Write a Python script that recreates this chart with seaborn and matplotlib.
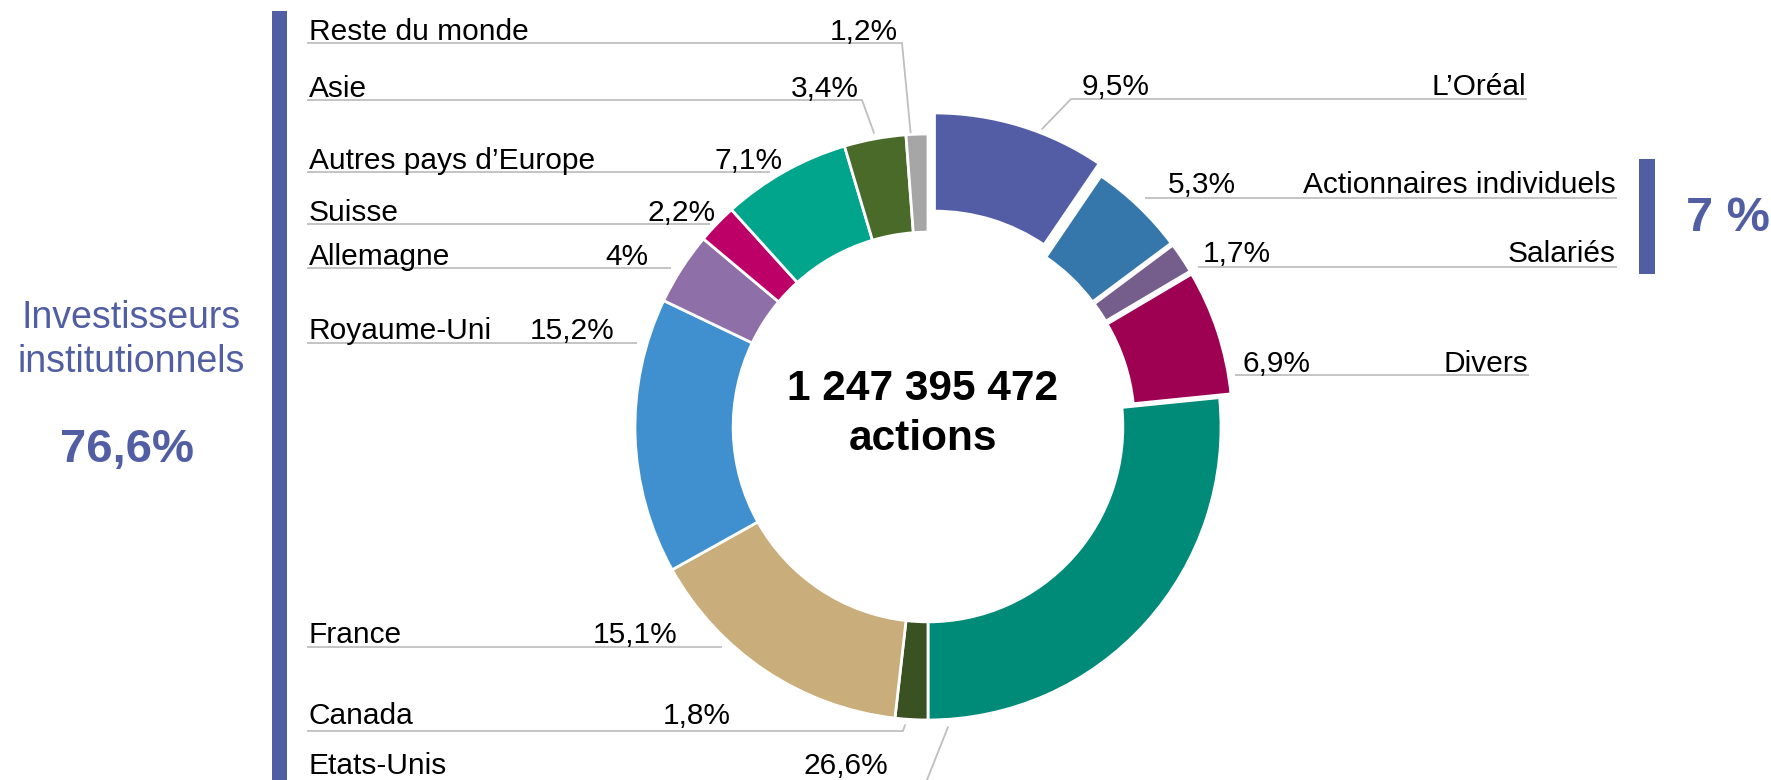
"""L'Oréal shareholding structure donut chart."""

import matplotlib.pyplot as plt
import seaborn as sns

# --- data --------------------------------------------------------------
segments = [
    "L\u2019Oréal", "Actionnaires individuels", "Salariés", "Divers",
    "Etats-Unis", "Canada", "France", "Royaume-Uni", "Allemagne", "Suisse",
    "Autres pays d\u2019Europe", "Asie", "Reste du monde",
]
shares = [9.5, 5.3, 1.7, 6.9, 26.6, 1.8, 15.1, 15.2, 4.0, 2.2, 7.1, 3.4, 1.2]
colors = [
    "#525da5", "#3577ab", "#765e8c", "#9e0052", "#008a78", "#3a5121",
    "#c9ad7a", "#4090d0", "#8f6fa8", "#bd0068", "#00a58c", "#4a6a2a",
    "#a6a6a6",
]
total_shares = "1 247 395 472"
institutional_share = "76,6%"
other_share = "7 %"

ACCENT = "#525ea4"
LEADER = "#bfbfbf"
W, H = 1771, 780

# label layout (image pixel coords): side, baseline y, underline y, line x0, x1, pct anchor x
label_layout = {
    "L\u2019Oréal": ("R", 95, 99, 1071, 1527, 1082),
    "Actionnaires individuels": ("R", 193, 198, 1145, 1617, 1168),
    "Salariés": ("R", 262, 267, 1198, 1617, 1203),
    "Divers": ("R", 372, 375, 1235, 1529, 1243),
    "Etats-Unis": ("L", 774, 790, 307, 930, 888),
    "Canada": ("L", 724, 731, 307, 903, 731),
    "France": ("L", 643, 647, 307, 722, 678),
    "Royaume-Uni": ("L", 339, 343, 307, 637, 615),
    "Allemagne": ("L", 265, 268, 307, 671, 649),
    "Suisse": ("L", 221, 224, 307, 710, 716),
    "Autres pays d\u2019Europe": ("L", 169, 172, 307, 770, 783),
    "Asie": ("L", 97, 100, 307, 862, 859),
    "Reste du monde": ("L", 40, 43, 307, 902, 898),
}
# diagonal leaders from underline end to wedge
leaders = {
    "L\u2019Oréal": ((1071, 99), (1042, 129)),
    "Reste du monde": ((902, 43), (911, 137)),
    "Asie": ((862, 100), (874, 133)),
    "Canada": ((903, 731), (905, 725)),
    "Etats-Unis": ((923, 790), (948, 727)),
}
explode = [22, 12, 12, 12, 0, 0, 0, 0, 0, 0, 0, 0, 0]


def fmt_pct(v):
    return ("%g" % v).replace(".", ",") + "%"


sns.set_theme(style="white")
plt.rcParams["font.family"] = ["Liberation Sans", "DejaVu Sans"]
plt.rcParams["text.color"] = "black"

fig = plt.figure(figsize=(W / 100, H / 100), dpi=100)
ax = fig.add_axes([0, 0, 1, 1])

R = 293
ax.pie(
    shares, colors=colors, radius=R, center=(928, 427), startangle=-90,
    counterclock=True, explode=explode,
    wedgeprops=dict(width=R * 0.335, edgecolor="white", linewidth=2, zorder=3),
)
ax.set_xlim(0, W)
ax.set_ylim(H, 0)
ax.set_aspect("equal")
ax.axis("off")

fs = 21.5
for name, v in zip(segments, shares):
    side, base, line_y, x0, x1, px = label_layout[name]
    ax.plot([x0, x1], [line_y, line_y], color=LEADER, lw=1.3, zorder=1,
            solid_capstyle="butt")
    if side == "L":
        ax.text(309, base, name, fontsize=fs, ha="left", va="baseline", zorder=2)
        ax.text(px, base, fmt_pct(v), fontsize=fs, ha="right", va="baseline", zorder=2)
    else:
        ax.text(x1 - 1, base, name, fontsize=fs, ha="right", va="baseline", zorder=2)
        ax.text(px, base, fmt_pct(v), fontsize=fs, ha="left", va="baseline", zorder=2)
    if name in leaders:
        (ax_, ay), (bx, by) = leaders[name]
        ax.plot([ax_, bx], [ay, by], color=LEADER, lw=1.3, zorder=1)

# centre caption
ax.text(923, 400, total_shares, fontsize=30.5, fontweight="bold",
        ha="center", va="baseline", zorder=4)
ax.text(923, 450, "actions", fontsize=30.5, fontweight="bold",
        ha="center", va="baseline", zorder=4)

# grouping bars
ax.add_patch(plt.Rectangle((272, 11), 15, H, color=ACCENT, lw=0))
ax.add_patch(plt.Rectangle((1639, 159), 16, 115, color=ACCENT, lw=0))

ax.text(131, 328, "Investisseurs", fontsize=27, color=ACCENT,
        ha="center", va="baseline")
ax.text(131, 372, "institutionnels", fontsize=27, color=ACCENT,
        ha="center", va="baseline")
ax.text(127, 462, institutional_share, fontsize=34, fontweight="bold",
        color=ACCENT, ha="center", va="baseline")
ax.text(1686, 231, other_share, fontsize=35, fontweight="bold",
        color=ACCENT, ha="left", va="baseline")

fig.savefig("out.png", dpi=100)
plt.close(fig)
